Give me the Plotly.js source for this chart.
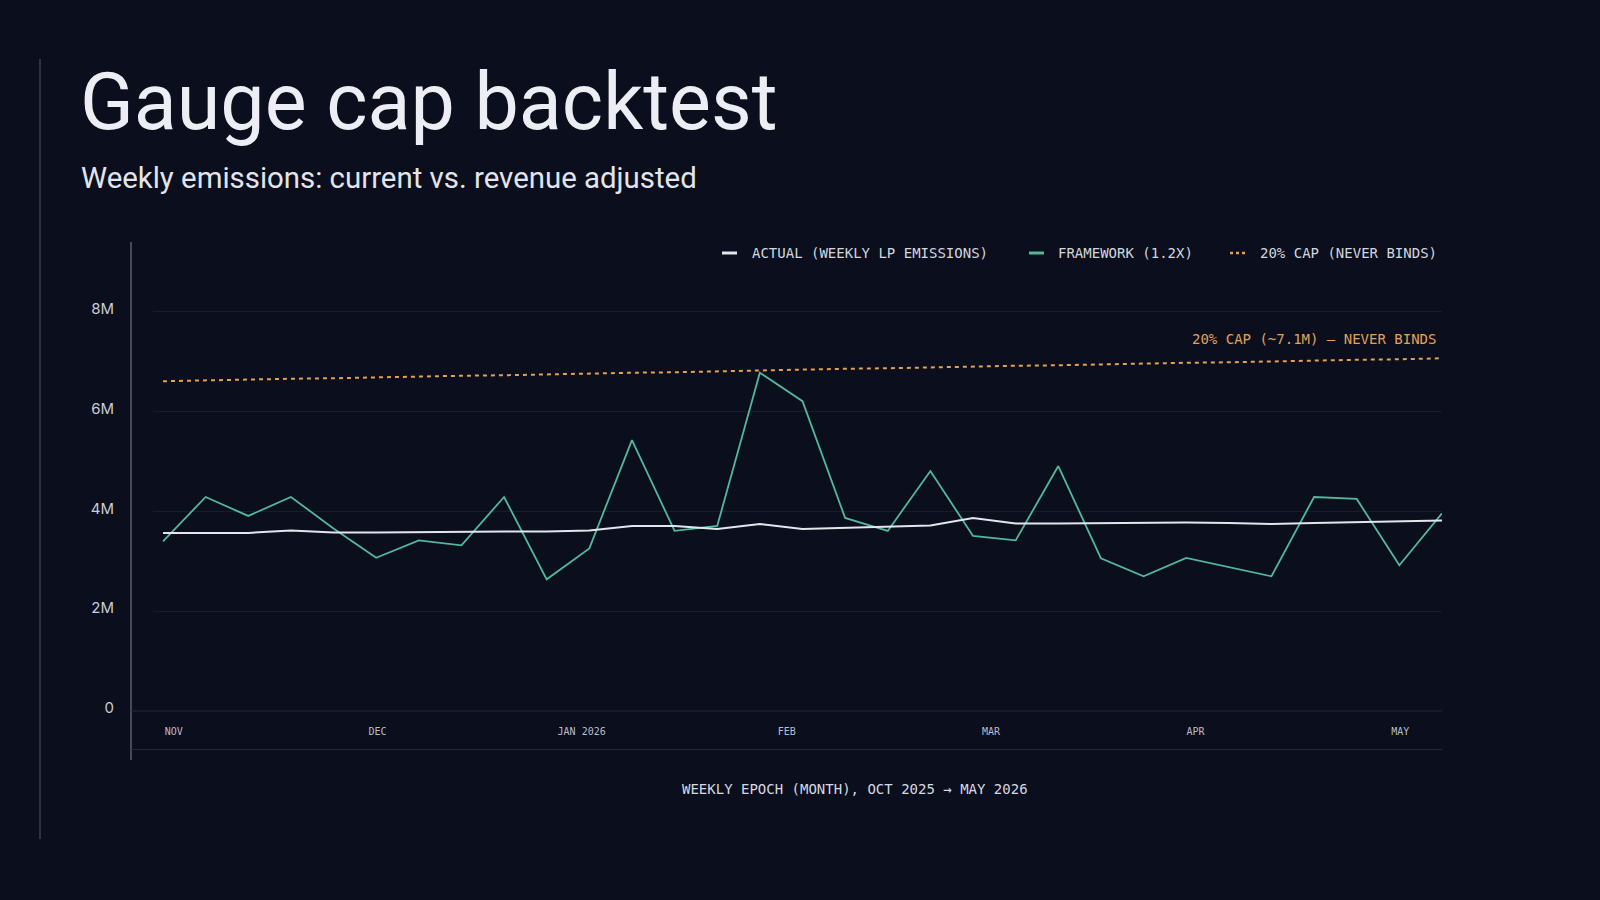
<!DOCTYPE html>
<html>
<head>
<meta charset="utf-8">
<script src="https://cdn.plot.ly/plotly-3.0.1.min.js"></script>
<style>
  html, body { margin: 0; padding: 0; background: #0b0e1c; }
  #chart { width: 1600px; height: 900px; }
</style>
</head>
<body>
<div id="chart"></div>
<script>
// ---------- DATA ----------
const weekIndex = [0,1,2,3,4,5,6,7,8,9,10,11,12,13,14,15,16,17,18,19,20,21,22,23,24,25,26,27,28,29,30];

// Weekly LP emissions, in millions
const actual = [3.57,3.57,3.57,3.62,3.58,3.58,3.59,3.59,3.60,3.60,3.62,3.71,3.71,3.65,3.75,
                3.65,3.67,3.69,3.72,3.87,3.76,3.76,3.77,3.77,3.78,3.77,3.75,3.77,3.79,3.80,3.82];
const framework = [3.40,4.29,3.91,4.29,3.66,3.07,3.42,3.32,4.29,2.64,3.26,5.43,3.61,3.71,6.78,
                   6.21,3.87,3.61,4.81,3.51,3.42,4.91,3.06,2.70,3.07,2.88,2.70,4.29,4.25,2.92,3.96];
const cap20 = [6.61,6.63,6.64,6.66,6.67,6.69,6.70,6.72,6.73,6.75,6.76,6.78,6.79,6.81,6.83,
               6.84,6.86,6.87,6.89,6.90,6.92,6.93,6.95,6.96,6.98,6.99,7.01,7.02,7.04,7.05,7.07];

const monthTickPos = [0.25, 5.03, 9.82, 14.63, 19.42, 24.22, 29.02];
const monthTickText = ['NOV','DEC','JAN 2026','FEB','MAR','APR','MAY'];

const yTickVals = [0, 2, 4, 6, 8];
const yTickText = ['0', '2M', '4M', '6M', '8M'];

const seriesNames = ['ACTUAL (WEEKLY LP EMISSIONS)', 'FRAMEWORK (1.2X)', '20% CAP (NEVER BINDS)'];
const titleText = 'Gauge cap backtest';
const subtitleText = 'Weekly emissions: current vs. revenue adjusted';
const capNote = '20% CAP (~7.1M) — NEVER BINDS';
const xTitleText = 'WEEKLY EPOCH (MONTH), OCT 2025 → MAY 2026';

// ---------- STYLE ----------
const BG = '#0b0e1c';
const C_ACTUAL = '#e4e6ee';
const C_FRAME = '#52b89d';
const C_CAP = '#e3a056';
const MONO = '"DejaVu Sans Mono", monospace';
const SANS = 'Roboto, "Noto Sans", sans-serif';

// plot area in pixels
const PL = 153, PR = 1442, PT = 262, PB = 711;
const W = 1600, H = 900;
const px = v => (v - PL) / (PR - PL);
const py = v => (PB - v) / (PB - PT);

const traces = [
  { x: weekIndex, y: cap20, name: seriesNames[2], type: 'scatter', mode: 'lines',
    line: { color: C_CAP, width: 2, dash: '4px,4px' }, hoverinfo: 'skip' },
  { x: weekIndex, y: framework, name: seriesNames[1], type: 'scatter', mode: 'lines',
    line: { color: C_FRAME, width: 1.8 }, hoverinfo: 'skip' },
  { x: weekIndex, y: actual, name: seriesNames[0], type: 'scatter', mode: 'lines',
    line: { color: C_ACTUAL, width: 2 }, hoverinfo: 'skip' }
];

const lineShape = (x0, y0, x1, y1, color, width, dash) => ({
  type: 'line', xref: 'paper', yref: 'paper',
  x0: px(x0), y0: py(y0), x1: px(x1), y1: py(y1),
  line: { color: color, width: width, dash: dash || 'solid' }, layer: 'below'
});

const shapes = [
  lineShape(40, 59, 40, 839, '#3a404f', 1.5),
  lineShape(131, 242, 131, 760, '#5a606e', 1.5),
  lineShape(131, 711, 1442, 711, '#252a3a', 1),
  lineShape(131, 749.5, 1442, 749.5, '#252a3a', 1),
  // legend symbols
  Object.assign(lineShape(722, 253, 737, 253, C_ACTUAL, 3), { layer: 'above' }),
  Object.assign(lineShape(1029, 253, 1044, 253, C_FRAME, 3), { layer: 'above' }),
  Object.assign(lineShape(1230, 253, 1248, 253, C_CAP, 2.5, '3px,3px'), { layer: 'above' })
];

const ann = (text, x, y, size, color, family, xanchor, extra) => Object.assign({
  text: text, xref: 'paper', yref: 'paper', x: px(x), y: py(y),
  xanchor: xanchor, yanchor: 'middle', showarrow: false,
  font: { size: size, color: color, family: family }
}, extra || {});

const annotations = [
  ann(titleText, 78, 102, 79, '#eceef4', SANS, 'left'),
  ann(subtitleText, 79, 178, 29.4, '#e2e5ec', SANS, 'left'),
  ann(seriesNames[0], 750, 253, 14, '#d3d6df', MONO, 'left'),
  ann(seriesNames[1], 1056, 253, 14, '#d3d6df', MONO, 'left'),
  ann(seriesNames[2], 1258, 253, 14, '#d3d6df', MONO, 'left'),
  ann(capNote, 1438, 339, 14, C_CAP, MONO, 'right'),
  ann(xTitleText, 855, 789, 14, '#d6d9e1', MONO, 'center')
];

const layout = {
  width: W, height: H,
  paper_bgcolor: BG, plot_bgcolor: BG,
  margin: { l: PL, r: W - PR, t: PT, b: H - PB, pad: 0 },
  showlegend: false,
  xaxis: {
    range: [-10 / 42.63, 30],
    showgrid: false, zeroline: false, showline: false,
    tickmode: 'array', tickvals: monthTickPos, ticktext: monthTickText,
    ticks: '', ticklabelstandoff: 13,
    tickfont: { family: MONO, size: 10, color: '#b9bdc8' },
    fixedrange: true
  },
  yaxis: {
    range: [0, 9],
    showgrid: true, gridcolor: '#181d2c', gridwidth: 1,
    zeroline: false, showline: false,
    tickmode: 'array', tickvals: yTickVals, ticktext: yTickText,
    ticks: '', ticklabelstandoff: 38, ticklabelshift: -3,
    tickfont: { family: 'Inter, ' + SANS, size: 15, color: '#c9cdd6' },
    fixedrange: true
  },
  shapes: shapes,
  annotations: annotations
};

Plotly.newPlot('chart', traces, layout, { displayModeBar: false, staticPlot: true });
</script>
</body>
</html>
